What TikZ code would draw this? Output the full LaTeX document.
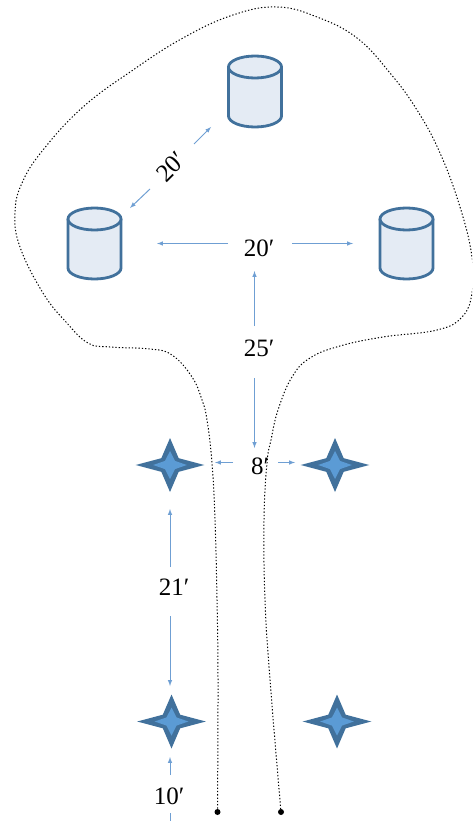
\documentclass[tikz,border=0pt]{standalone}
\usepackage{fontspec}
\setmainfont{Liberation Serif}
\definecolor{TankEdge}{HTML}{41719C}
\definecolor{TankFill}{HTML}{E4EBF4}
\definecolor{StarCore}{HTML}{5B9BD5}
\definecolor{DimLine}{HTML}{6F9FD3}
\usetikzlibrary{shapes.geometric}

\begin{document}
\begin{tikzpicture}[x=1pt, y=-1pt,
    tank/.pic={
      \draw [draw=TankEdge, fill=TankFill, line width=2.8pt] (-26.5,-24.5) -- (-26.5,24.5)
        arc [start angle=180, end angle=360, x radius=26.5pt, y radius=11pt] -- (26.5,-24.5);
      \draw [draw=TankEdge, fill=TankFill, line width=2.8pt] (0,-24.5) ellipse [x radius=26.5pt, y radius=11pt];
    },
    wellout/.style={star, star points=4, star point ratio=2.8, fill=TankEdge, minimum size=54pt,
      inner sep=0pt, outer sep=0pt, xscale=1.27},
    wellin/.style={star, star points=4, star point ratio=2.4, fill=StarCore, minimum size=28pt,
      inner sep=0pt, outer sep=0pt, xscale=1.2},
    dist/.style={font=\fontsize{25}{25}\selectfont, inner sep=0pt},
    dimline/.style={DimLine, line width=1pt},
    bound/.style={line width=1pt, dash pattern=on 1.3pt off 2pt},
    enddot/.style={circle, fill=black, minimum size=6pt, inner sep=0pt}]
  \useasboundingbox (0,0) rectangle (472,821);
  \clip (0,0) rectangle (472,821);

  \pic (t1) at (255,91.5) {tank};
  \pic (t2) at (94.5,243.5) {tank};
  \pic (t3) at (406.5,243.5) {tank};

  \node [wellout] (s1) at (170,465) {};
  \node [wellout] (s2) at (335,465) {};
  \node [wellout] (s3) at (171.5,721.5) {};
  \node [wellout] (s4) at (337,721.5) {};
  \node [wellin] (c1) at (s1) {};
  \node [wellin] (c2) at (s2) {};
  \node [wellin] (c3) at (s3) {};
  \node [wellin] (c4) at (s4) {};

  \node [dist, rotate=45] (d1) at (171,167) {20′};
  \node [dist] (d2) at (259,248.5) {20′};
  \node [dist] (d3) at (259,348) {25′};
  \node [dist] (d4) at (260,466) {8′};
  \node [dist] (d5) at (174,587) {21′};
  \node [dist] (d6) at (169,796) {10′};

  \coordinate (a1) at (150,189);  \coordinate (b1) at (130,208);
  \coordinate (a2) at (194,144);  \coordinate (b2) at (211,127);
  \coordinate (a3) at (228,243.5);  \coordinate (b3) at (157,243.5);
  \coordinate (a4) at (292,243.5);  \coordinate (b4) at (353,243.5);
  \coordinate (a5) at (254.5,326);  \coordinate (b5) at (254.5,271);
  \coordinate (a6) at (254.5,378);  \coordinate (b6) at (254.5,448);
  \coordinate (a7) at (233,462.5);  \coordinate (b7) at (215,462.5);
  \coordinate (a8) at (278,462.5);  \coordinate (b8) at (295,462.5);
  \coordinate (a9) at (170,567);  \coordinate (b9) at (170,509);
  \coordinate (a10) at (170,616);  \coordinate (b10) at (170,686);
  \coordinate (a11) at (170,775);  \coordinate (b11) at (170,757);
  \coordinate (a12) at (170,813);  \coordinate (b12) at (170,821);
  \draw [dimline, -latex] (a1) -- (b1);
  \draw [dimline, -latex] (a2) -- (b2);
  \draw [dimline, -latex] (a3) -- (b3);
  \draw [dimline, -latex] (a4) -- (b4);
  \draw [dimline, -latex] (a5) -- (b5);
  \draw [dimline, -latex] (a6) -- (b6);
  \draw [dimline, -latex] (a7) -- (b7);
  \draw [dimline, -latex] (a8) -- (b8);
  \draw [dimline, -latex] (a9) -- (b9);
  \draw [dimline, -latex] (a10) -- (b10);
  \draw [dimline, -latex] (a11) -- (b11);
  \draw [dimline] (a12) -- (b12);

  \node [enddot] (e1) at (217.5,812) {};
  \node [enddot] (e2) at (281,812) {};
  \draw [bound] plot [smooth, tension=.7] coordinates {(e1) (218,680) (217,600) (215,520) (212,463) (207,420)
    (202,400) (192,377) (172,355) (150,349) (110,347) (88,343) (66,322) (43,293) (20,247) (15,213) (22,183)
    (43,150) (83,107) (133,70) (183,38) (233,15) (277,7) (317,17) (357,38) (390,73) (417,110) (440,153)
    (460,207) (472,257) (472,293) (462,317) (437,330) (383,337) (340,346) (310,358) (292,377) (278,410)
    (271,440) (267,463) (264,520) (265,600) (270,680) (e2)};
\end{tikzpicture}
\end{document}
